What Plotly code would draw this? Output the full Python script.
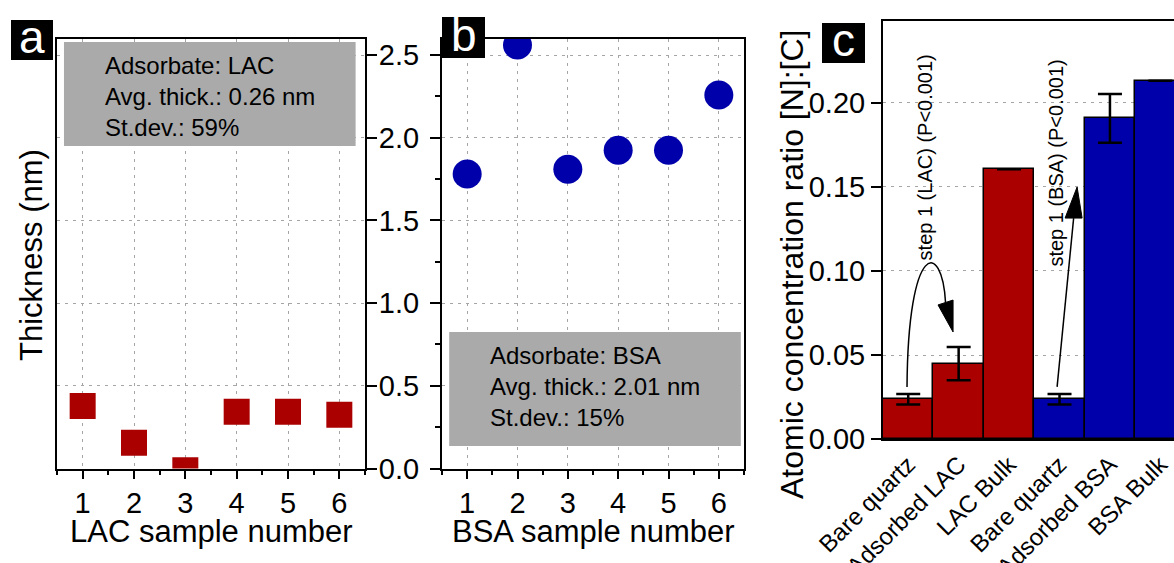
import plotly.graph_objects as go

# ---------------- data ----------------
lac_samples = [1, 2, 3, 4, 5, 6]
lac_thickness = [0.378, 0.156, -0.01, 0.343, 0.343, 0.325]

bsa_samples = [1, 2, 3, 4, 5, 6]
bsa_thickness = [1.78, 2.56, 1.81, 1.925, 1.925, 2.258]

xps_categories = ["Bare quartz", "Adsorbed LAC", "LAC Bulk", "Bare quartz", "Adsorbed BSA", "BSA Bulk"]
xps_ratio = [0.0237, 0.0448, 0.1605, 0.0237, 0.1908, 0.2133]
xps_error = [0.0031, 0.0099, None, 0.0031, 0.0145, None]
xps_colors = ["#aa0000", "#aa0000", "#aa0000", "#0000aa", "#0000aa", "#0000aa"]

thickness_ticks = [0.0, 0.5, 1.0, 1.5, 2.0, 2.5]
ratio_ticks = [0.0, 0.05, 0.10, 0.15, 0.20]

FONT = "Arial, 'Liberation Sans', sans-serif"
W, H = 1174, 563
TICKF = 29
TITLEF = 31

fig = go.Figure()

fig.add_trace(go.Scatter(
    x=lac_samples, y=lac_thickness, mode="markers", xaxis="x", yaxis="y",
    marker=dict(symbol="square", size=26, color="#aa0000", line=dict(width=0)),
    showlegend=False))

fig.add_trace(go.Scatter(
    x=bsa_samples, y=bsa_thickness, mode="markers", xaxis="x2", yaxis="y2",
    marker=dict(symbol="circle", size=29, color="#0000aa", line=dict(width=0)),
    showlegend=False))

xidx = list(range(len(xps_categories)))
fig.add_trace(go.Bar(
    x=xidx, y=xps_ratio, xaxis="x3", yaxis="y3", width=1.0,
    marker=dict(color=xps_colors, line=dict(color="black", width=1.5)),
    error_y=dict(type="data", array=xps_error, visible=True, color="black",
                 thickness=2.5, width=12),
    showlegend=False))

grid = dict(showgrid=True, gridcolor="#a6a6a6", gridwidth=1, griddash="3px,5px")
axline = dict(showline=True, linecolor="black", linewidth=2, zeroline=False,
              tickcolor="black", tickwidth=2, automargin=False)

dom_a = [57 / W, 365 / W]
dom_b = [442 / W, 744 / W]
dom_c = [883 / W, 1.0]
dom_ab_y = [1 - 468.5 / H, 1 - 39 / H]
dom_c_y = [1 - 439 / H, 1 - 21 / H]

xcommon = dict(range=[0.5, 6.5], tickvals=[1, 2, 3, 4, 5, 6], ticks="outside", ticklen=8,
               minor=dict(dtick=0.5, tick0=0.5, ticks="outside", ticklen=4, tickwidth=2,
                          tickcolor="black", showgrid=False),
               mirror=True, tickfont=dict(size=TICKF, family=FONT, color="black"),
               **grid, **axline)

fig.update_layout(
    width=W, height=H, margin=dict(l=0, r=0, t=0, b=0, autoexpand=False),
    paper_bgcolor="white", plot_bgcolor="white",
    font=dict(family=FONT, color="black"),
    xaxis=dict(domain=dom_a, anchor="y", **xcommon),
    yaxis=dict(domain=dom_ab_y, anchor="x", side="right", range=[0, 2.597],
               tickvals=thickness_ticks, showticklabels=False, ticks="outside", ticklen=10,
               mirror=True, **grid, **axline),
    xaxis2=dict(domain=dom_b, anchor="y2", **xcommon),
    yaxis2=dict(domain=dom_ab_y, anchor="x2", range=[0, 2.597],
                tickvals=thickness_ticks, ticktext=[f"{v:.1f}" for v in thickness_ticks],
                ticks="outside", ticklen=10, ticklabelstandoff=5,
                minor=dict(dtick=0.25, tick0=0, ticks="outside", ticklen=5, tickwidth=2,
                           tickcolor="black", showgrid=False),
                tickfont=dict(size=TICKF, family=FONT, color="black"),
                mirror=True, **grid, **axline),
    xaxis3=dict(domain=dom_c, anchor="y3", range=[-0.5, 5.27],
                tickvals=xidx, ticktext=xps_categories, tickangle=-45, ticks="",
                tickfont=dict(size=24, family=FONT, color="black"),
                mirror=True, showgrid=False, **axline),
    yaxis3=dict(domain=dom_c_y, anchor="x3", range=[0, 0.2488],
                tickvals=ratio_ticks, ticktext=[f"{v:.2f}" for v in ratio_ticks],
                ticks="outside", ticklen=10,
                tickfont=dict(size=TICKF, family=FONT, color="black"),
                **grid, **axline),
    bargap=0,
)

shapes = []
annotations = []

# Gray info boxes
shapes.append(dict(type="rect", xref="x", yref="y", x0=0.636, x1=6.317, y0=1.95, y1=2.579,
                   fillcolor="#aaaaaa", line=dict(width=0), layer="above"))
shapes.append(dict(type="rect", xref="x2", yref="y2", x0=0.643, x1=6.437, y0=0.136, y1=0.825,
                   fillcolor="#aaaaaa", line=dict(width=0), layer="above"))
annotations.append(dict(xref="x", yref="y", x=1.395, y=2.252, xanchor="left", yanchor="middle",
                        align="left", showarrow=False,
                        text="Adsorbate: LAC<br>Avg. thick.: 0.26 nm<br>St.dev.: 59%",
                        font=dict(size=24, family=FONT, color="black")))
annotations.append(dict(xref="x2", yref="y2", x=1.417, y=0.493, xanchor="left", yanchor="middle",
                        align="left", showarrow=False,
                        text="Adsorbate: BSA<br>Avg. thick.: 2.01 nm<br>St.dev.: 15%",
                        font=dict(size=24, family=FONT, color="black")))

# Axis titles
title_font = dict(size=TITLEF, family=FONT, color="black")
annotations.append(dict(xref="paper", yref="paper", x=31 / W, y=1 - 255 / H,
                        xanchor="center", yanchor="middle", textangle=-90, showarrow=False,
                        text="Thickness (nm)", font=title_font))
annotations.append(dict(xref="x domain", yref="paper", x=0.5, y=1 - 531 / H,
                        xanchor="center", yanchor="middle", showarrow=False,
                        text="LAC sample number", font=title_font))
annotations.append(dict(xref="x2 domain", yref="paper", x=0.5, y=1 - 531 / H,
                        xanchor="center", yanchor="middle", showarrow=False,
                        text="BSA sample number", font=title_font))
annotations.append(dict(xref="paper", yref="paper", x=792 / W, y=1 - 264 / H,
                        xanchor="center", yanchor="middle", textangle=-90, showarrow=False,
                        text="Atomic concentration ratio [N]:[C]",
                        font=dict(size=32, family=FONT, color="black")))

# Panel letters
for letter, (bx0, bx1, by0, by1) in zip(["a", "b", "c"],
                                         [(11, 53, 20, 60), (442, 485, 17, 58), (822, 865, 23, 63)]):
    shapes.append(dict(type="rect", xref="paper", yref="paper", x0=bx0 / W, x1=bx1 / W,
                       y0=1 - by1 / H, y1=1 - by0 / H, fillcolor="black", line=dict(width=0),
                       layer="above"))
    annotations.append(dict(xref="paper", yref="paper", x=(bx0 + bx1) / 2 / W,
                            y=1 - ((by0 + by1) / 2 - 3) / H, xanchor="center", yanchor="middle",
                            showarrow=False, text=letter,
                            font=dict(size=46, family=FONT, color="white")))

# Panel c significance annotations
annotations.append(dict(xref="x3", yref="y3", x=0.333, y=0.1676, textangle=-90, showarrow=False,
                        text="step 1 (LAC) (P<0.001)", font=dict(size=20, family=FONT, color="black")))
annotations.append(dict(xref="x3", yref="y3", x=2.933, y=0.164, textangle=-90, showarrow=False,
                        text="step 1 (BSA) (P<0.001)", font=dict(size=20, family=FONT, color="black")))

# curved arrow (LAC)
shapes.append(dict(type="path", xref="x3", yref="y3",
                   path="M -0.024,0.031 C -0.004,0.1185 0.671,0.1185 0.740,0.0812",
                   line=dict(color="black", width=1.5), layer="above"))
shapes.append(dict(type="path", xref="x3", yref="y3",
                   path="M 0.591,0.0798 L 0.889,0.0827 L 0.889,0.0637 Z",
                   fillcolor="black", line=dict(color="black", width=1), layer="above"))
# straight arrow (BSA)
shapes.append(dict(type="path", xref="x3", yref="y3",
                   path="M 2.952,0.031 L 3.280,0.1315",
                   line=dict(color="black", width=1.5), layer="above"))
shapes.append(dict(type="path", xref="x3", yref="y3",
                   path="M 3.111,0.1315 L 3.448,0.1315 L 3.349,0.150 Z",
                   fillcolor="black", line=dict(color="black", width=1), layer="above"))

fig.update_layout(shapes=shapes, annotations=annotations)

fig.write_html("out.html")
